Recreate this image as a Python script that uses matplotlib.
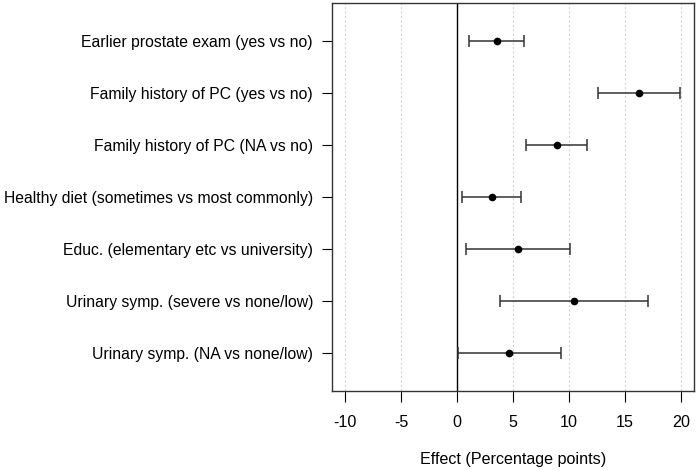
import matplotlib
matplotlib.use("Agg")
import matplotlib.pyplot as plt

plt.rcParams['font.family'] = ['Liberation Sans', 'DejaVu Sans']

# labels, top to bottom
labels = [
    "Earlier prostate exam (yes vs no)",
    "Family history of PC (yes vs no)",
    "Family history of PC (NA vs no)",
    "Healthy diet (sometimes vs most commonly)",
    "Educ. (elementary etc vs university)",
    "Urinary symp. (severe vs none/low)",
    "Urinary symp. (NA vs none/low)",
]
effect = [3.54, 16.25, 8.9, 3.1, 5.45, 10.45, 4.67]
lower = [1.04, 12.56, 6.16, 0.48, 0.77, 3.84, 0.06]
upper = [5.98, 19.88, 11.64, 5.71, 10.09, 17.08, 9.31]
xticks = [-10, -5, 0, 5, 10, 15, 20]

fig = plt.figure(figsize=(6.97, 4.70), dpi=100)
ax = fig.add_axes([331.7/697, 1 - 391/470, (694.4-331.7)/697, (391-3)/470])

n = len(labels)
ypos = list(range(n, 0, -1))

for t in xticks:
    ax.axvline(t, color="#d3d3d3", lw=0.8, ls=(0, (2, 2)), zorder=0)
ax.axvline(0, color="black", lw=1, zorder=1)

err = [[e - l for e, l in zip(effect, lower)], [u - e for e, u in zip(effect, upper)]]
ax.errorbar(effect, ypos, xerr=err, fmt="o", color="black", ms=4.5,
            ecolor="#333333", elinewidth=1.1, capsize=4, capthick=1.1, zorder=3)

ax.set_xlim(-11.2, 21.2)
ax.set_ylim(0.27, 7.73)
ax.set_xticks(xticks)
ax.set_xticklabels([str(t) for t in xticks])
ax.set_yticks(ypos)
ax.set_yticklabels(labels)
ax.tick_params(axis="x", length=8, width=0.8, pad=9, labelsize=11.6)
ax.tick_params(axis="y", length=7, width=0.8, pad=6.5, labelsize=11.35)
for s in ax.spines.values():
    s.set_linewidth(1)
    s.set_color("#333333")
ax.set_xlabel("Effect (Percentage points)", fontsize=11.6, labelpad=16)

fig.savefig("out.png", dpi=100)
